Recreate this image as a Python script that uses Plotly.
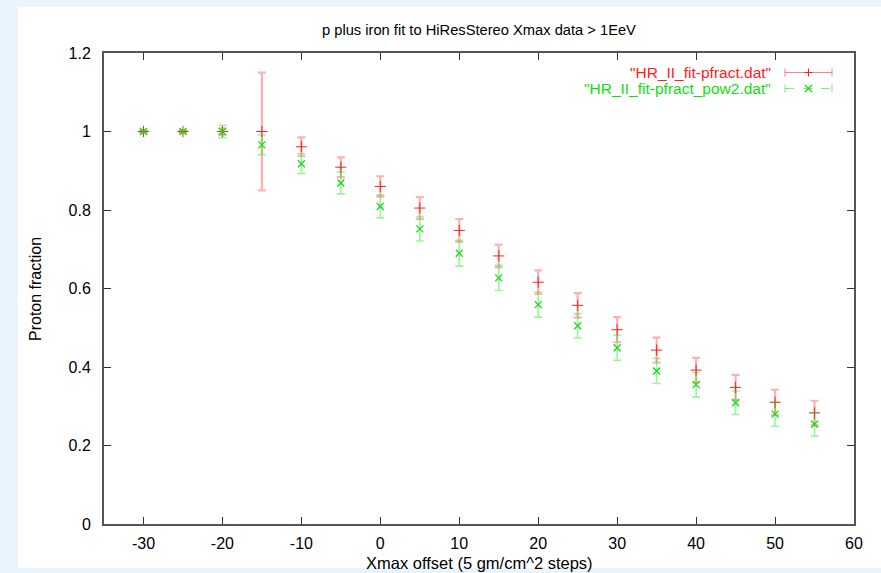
import plotly.graph_objects as go

x_offset = [-30, -25, -20, -15, -10, -5, 0, 5, 10, 15, 20, 25, 30, 35, 40, 45, 50, 55]
pfract = [1.0, 1.0, 1.0, 1.0, 0.961, 0.909, 0.860, 0.805, 0.748, 0.683, 0.616, 0.557,
          0.495, 0.443, 0.392, 0.348, 0.310, 0.283]
pfract_err = [0.003, 0.003, 0.008, 0.15, 0.024, 0.025, 0.026, 0.028, 0.029, 0.029, 0.030,
              0.031, 0.032, 0.032, 0.031, 0.032, 0.032, 0.031]
pow2 = [1.0, 1.0, 1.0, 0.966, 0.918, 0.869, 0.809, 0.752, 0.690, 0.627, 0.559, 0.505,
        0.449, 0.390, 0.355, 0.309, 0.280, 0.254]
pow2_err = [0.003, 0.003, 0.016, 0.025, 0.025, 0.028, 0.029, 0.031, 0.033, 0.032, 0.032,
            0.031, 0.032, 0.032, 0.031, 0.030, 0.031, 0.030]
x_ticks = [-30, -20, -10, 0, 10, 20, 30, 40, 50, 60]
x_tick_labels = ["-30", "-20", "-10", "0", "10", "20", "30", "40", "50", "60"]
y_ticks = [0, 0.2, 0.4, 0.6, 0.8, 1.0, 1.2]
y_tick_labels = ["0", "0.2", "0.4", "0.6", "0.8", "1", "1.2"]

W, H = 881, 573
L, R, T, B = 104, 27, 53, 49
pw, ph = W - L - R, H - T - B

def px(xp):
    return (xp - L) / pw

def py(yp):
    return (H - B - yp) / ph

RED = "#ff2020"
GREEN = "#10e010"
FONT = "Liberation Sans"
LEG_Y1, LEG_Y2 = 72.5, 88.5

fig = go.Figure()
fig.add_trace(go.Scatter(
    x=x_offset, y=pfract, mode="markers", name='"HR_II_fit-pfract.dat"',
    marker=dict(symbol="cross-thin", size=8, line=dict(color=RED, width=1)),
    error_y=dict(type="data", array=pfract_err, visible=True,
                 color="rgba(255,60,60,0.4)", thickness=2.2, width=4),
))
fig.add_trace(go.Scatter(
    x=x_offset, y=pow2, mode="markers", name='"HR_II_fit-pfract_pow2.dat"',
    marker=dict(symbol="x-thin", size=7, line=dict(color=GREEN, width=1.3)),
    error_y=dict(type="data", array=pow2_err, visible=True,
                 color="rgba(0,230,0,0.4)", thickness=1.6, width=4),
))

shapes = [
    dict(type="rect", xref="paper", yref="paper", layer="below",
         x0=px(18), x1=px(W + 5), y0=py(568), y1=py(7),
         fillcolor="white", line=dict(width=0)),
]
# legend samples
lx0, lx1, lxm = px(785), px(832), px(808.5)
cap = 4 / ph
for yy, col, dash in [(py(LEG_Y1), RED, "solid"), (py(LEG_Y2), GREEN, "dash")]:
    shapes.append(dict(type="line", xref="paper", yref="paper", x0=lx0, x1=lx1, y0=yy, y1=yy,
                       line=dict(color=col, width=1, dash=dash), opacity=0.55))
    for xc in (lx0, lx1):
        shapes.append(dict(type="line", xref="paper", yref="paper", x0=xc, x1=xc,
                           y0=yy - cap, y1=yy + cap, line=dict(color=col, width=1), opacity=0.55))
m = 4
shapes.append(dict(type="line", xref="paper", yref="paper", x0=px(808.5 - m), x1=px(808.5 + m),
                   y0=py(LEG_Y1), y1=py(LEG_Y1), line=dict(color=RED, width=1)))
shapes.append(dict(type="line", xref="paper", yref="paper", x0=lxm, x1=lxm,
                   y0=py(LEG_Y1 - m), y1=py(LEG_Y1 + m), line=dict(color=RED, width=1)))
shapes.append(dict(type="line", xref="paper", yref="paper", x0=px(808.5 - 3.5), x1=px(808.5 + 3.5),
                   y0=py(LEG_Y2 - 3.5), y1=py(LEG_Y2 + 3.5), line=dict(color=GREEN, width=1.2)))
shapes.append(dict(type="line", xref="paper", yref="paper", x0=px(808.5 - 3.5), x1=px(808.5 + 3.5),
                   y0=py(LEG_Y2 + 3.5), y1=py(LEG_Y2 - 3.5), line=dict(color=GREEN, width=1.2)))

annotations = [
    dict(text='"HR_II_fit-pfract.dat"', xref="paper", yref="paper", x=px(773), y=py(LEG_Y1),
         xanchor="right", yanchor="middle", showarrow=False,
         font=dict(family=FONT, size=15.5, color=RED)),
    dict(text='"HR_II_fit-pfract_pow2.dat"', xref="paper", yref="paper", x=px(773), y=py(LEG_Y2),
         xanchor="right", yanchor="middle", showarrow=False,
         font=dict(family=FONT, size=15.5, color=GREEN)),
    dict(text="p plus iron fit to HiResStereo Xmax data > 1EeV", xref="paper", yref="paper",
         x=0.5, y=py(30), xanchor="center", yanchor="middle", showarrow=False,
         font=dict(family=FONT, size=14.7, color="black")),
    dict(text="Proton fraction", xref="paper", yref="paper", x=px(35), y=py(289),
         xanchor="center", yanchor="middle", showarrow=False, textangle=-90,
         font=dict(family=FONT, size=16, color="black")),
    dict(text="Xmax offset (5 gm/cm^2 steps)", xref="paper", yref="paper", x=0.5, y=py(563),
         xanchor="center", yanchor="middle", showarrow=False,
         font=dict(family=FONT, size=16.5, color="black")),
]

fig.update_layout(
    width=W, height=H, autosize=False,
    margin=dict(l=L, r=R, t=T, b=B, pad=0),
    paper_bgcolor="#eaf4fd", plot_bgcolor="white",
    showlegend=False,
    shapes=shapes, annotations=annotations,
    font=dict(family=FONT, size=13, color="black"),
)
fig.update_xaxes(range=[-35, 60], tickvals=x_ticks, ticktext=x_tick_labels,
                 ticks="inside", ticklen=7, ticklabelstandoff=4,
                 tickcolor="#333", showline=True, linecolor="#555", linewidth=2,
                 mirror="ticks", showgrid=False, zeroline=False,
                 tickfont=dict(family=FONT, size=16, color="black"))
fig.update_yaxes(range=[0, 1.2], tickvals=y_ticks, ticktext=y_tick_labels,
                 ticks="inside", ticklen=7, ticklabelstandoff=8,
                 tickcolor="#333", showline=True, linecolor="#555", linewidth=2,
                 mirror="ticks", showgrid=False, zeroline=False,
                 tickfont=dict(family=FONT, size=16, color="black"))

fig.write_html("out.html")
